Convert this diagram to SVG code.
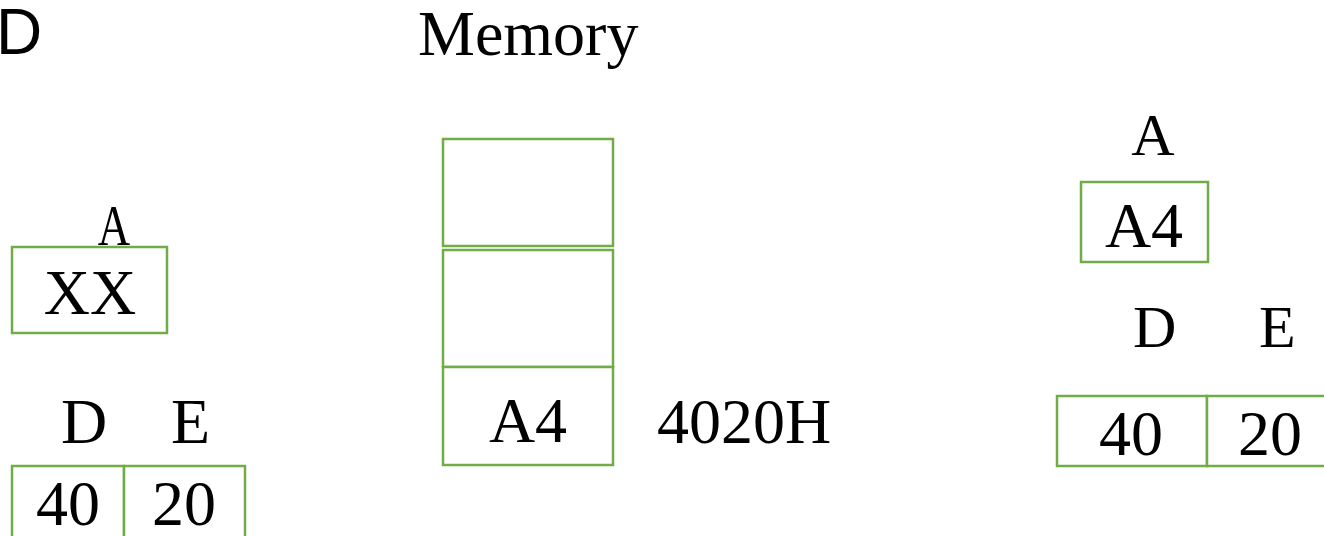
<svg xmlns="http://www.w3.org/2000/svg" width="1324" height="536" viewBox="0 0 1324 536">
<style>
.t{font-family:"Liberation Serif","Times New Roman",serif;font-size:64px;fill:#000}
.s{font-family:"Liberation Sans",Arial,sans-serif;font-size:64px;fill:#000}
.b{fill:#fff;stroke:#70AD47;stroke-width:2.5}
</style>
<rect width="1324" height="536" fill="#fff"/>
<text class="s" x="-4" y="54">D</text>
<text class="t" x="418" y="55">Memory</text>
<g id="left-A">
<text class="t" transform="translate(114,245) scale(0.8,1)" text-anchor="middle" style="font-size:56px">A</text>
<rect class="b" x="12" y="247" width="155" height="86"/>
<text class="t" x="90" y="314" text-anchor="middle">XX</text>
</g>
<g id="left-DE">
<text class="t" x="61" y="443">D</text>
<text class="t" x="171" y="443">E</text>
<rect class="b" x="12" y="466" width="112" height="80"/>
<rect class="b" x="124" y="466" width="121" height="80"/>
<text class="t" x="68" y="525" text-anchor="middle">40</text>
<text class="t" x="184" y="525" text-anchor="middle">20</text>
</g>
<g id="memory">
<rect class="b" x="443" y="139" width="170" height="107"/>
<rect class="b" x="443" y="250" width="170" height="117"/>
<rect class="b" x="443" y="367" width="170" height="98"/>
<text class="t" x="528" y="442" text-anchor="middle">A4</text>
<text class="t" x="657" y="443">4020H</text>
</g>
<g id="right-A">
<text class="t" x="1153" y="155" text-anchor="middle" style="font-size:60px">A</text>
<rect class="b" x="1081" y="182" width="127" height="80"/>
<text class="t" x="1144" y="247" text-anchor="middle">A4</text>
</g>
<g id="right-DE">
<text class="t" x="1133" y="347" style="font-size:60px">D</text>
<text class="t" x="1259" y="347" style="font-size:60px">E</text>
<rect class="b" x="1057" y="396" width="150" height="70"/>
<rect class="b" x="1207" y="396" width="130" height="70"/>
<text class="t" x="1131" y="455" text-anchor="middle">40</text>
<text class="t" x="1270" y="455" text-anchor="middle">20</text>
</g>
</svg>
